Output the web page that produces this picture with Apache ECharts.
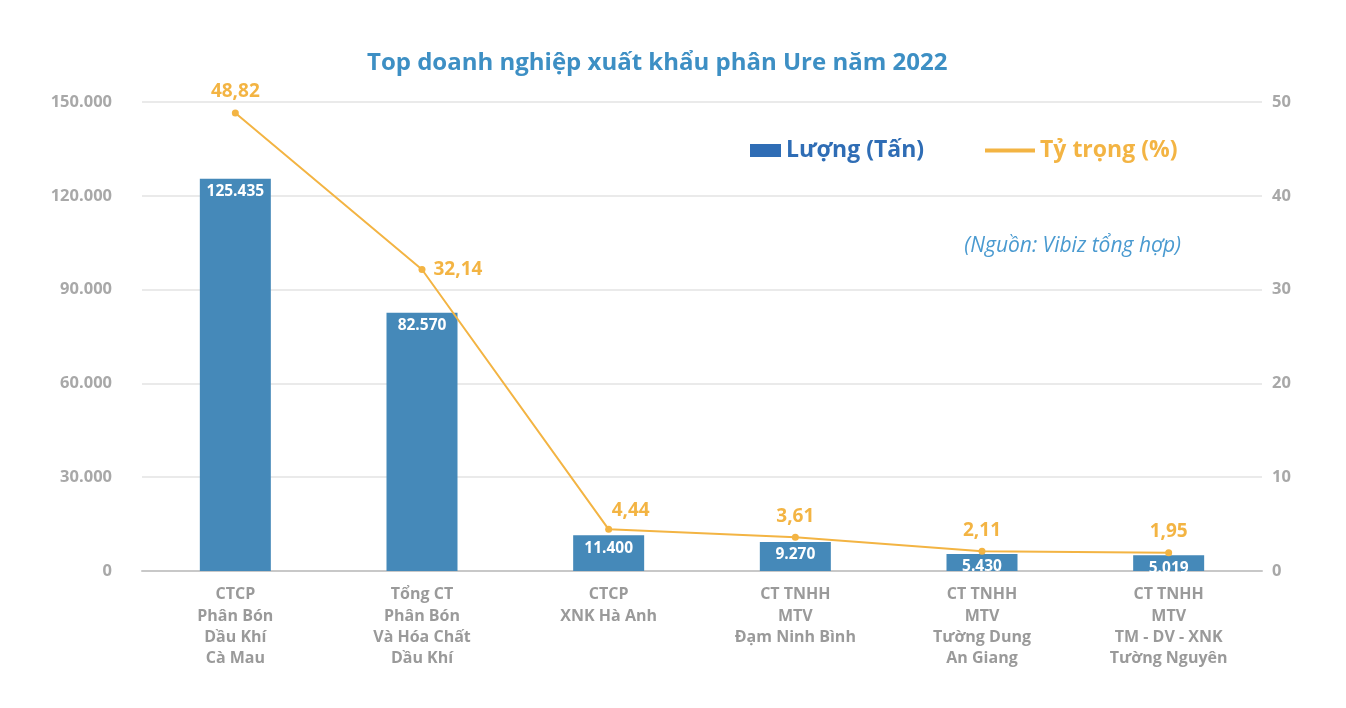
<!DOCTYPE html>
<html><head><meta charset="utf-8">
<script src="https://cdn.jsdelivr.net/npm/echarts@6/dist/echarts.min.js"></script>
<style>html,body{margin:0;padding:0;background:#fff}#c{width:1346px;height:708px}</style>
</head><body><div id="c"></div>
<script>
const categories = [
  "CTCP\nPhân Bón\nDầu Khí\nCà Mau",
  "Tổng CT\nPhân Bón\nVà Hóa Chất\nDầu Khí",
  "CTCP\nXNK Hà Anh",
  "CT TNHH\nMTV\nĐạm Ninh Bình",
  "CT TNHH\nMTV\nTường Dung\nAn Giang",
  "CT TNHH\nMTV\nTM - DV - XNK\nTường Nguyên"
];
const luong = [125435, 82570, 11400, 9270, 5430, 5019];
const tyTrong = [48.82, 32.14, 4.44, 3.61, 2.11, 1.95];
const leftTicks = {min: 0, max: 150000, interval: 30000};
const rightTicks = {min: 0, max: 50, interval: 10};
const lineLabelPos = ["top", "right", "top", "top", "top", "top"];
const lineLabelOffset = [[0, 0], [0, 0], [22, 2], [0, 0], [0, 0], [0, 0]];

const FONT = "Open Sans";
const fmtDot = v => String(v).replace(/\B(?=(\d{3})+(?!\d))/g, ".");
const chart = echarts.init(document.getElementById('c'), null, {renderer: 'canvas'});
chart.setOption({
  animation: false,
  textStyle: {fontFamily: FONT},
  title: {
    text: "Top doanh nghiệp xuất khẩu phân Ure năm 2022",
    left: 362, top: 46,
    textStyle: {color: '#3d8fc4', fontSize: 24, fontWeight: 'bold', fontFamily: FONT}
  },
  legend: [{
    data: [{name: 'Lượng (Tấn)', itemStyle: {color: '#2f6db5'}, textStyle: {color: '#2f6db5'}}],
    left: 745, top: 134, icon: 'rect', itemWidth: 31, itemHeight: 13, itemGap: 6,
    textStyle: {fontSize: 23, fontWeight: 'bold', fontFamily: FONT}
  }, {
    data: [{name: 'Tỷ trọng (%)', itemStyle: {color: '#f3b443'}, textStyle: {color: '#f3b443'}}],
    left: 980, top: 134, icon: 'rect', itemWidth: 50, itemHeight: 4, itemGap: 6,
    textStyle: {fontSize: 23, fontWeight: 'bold', fontFamily: FONT}
  }],
  graphic: [{
    type: 'text', right: 165, top: 236,
    style: {text: '(Nguồn: Vibiz tổng hợp)', fill: '#4a9ad0', fontSize: 21, fontStyle: 'italic', fontFamily: FONT}
  }],
  grid: {left: 142, right: 84, top: 102, bottom: 137},
  xAxis: {
    type: 'category', data: categories,
    axisLine: {lineStyle: {color: '#c8c8c8', width: 2}},
    axisTick: {show: false},
    axisLabel: {color: '#9a9a9a', fontSize: 16, fontWeight: 'bold', lineHeight: 21.3, margin: 13, interval: 0, fontFamily: FONT}
  },
  yAxis: [{
    type: 'value', min: leftTicks.min, max: leftTicks.max, interval: leftTicks.interval,
    axisLine: {show: false}, axisTick: {show: false},
    splitLine: {lineStyle: {color: '#e3e3e3', width: 1.5}},
    axisLabel: {color: '#a8a8a8', fontSize: 16.5, fontWeight: 'bold', margin: 30, formatter: fmtDot, fontFamily: FONT}
  }, {
    type: 'value', min: rightTicks.min, max: rightTicks.max, interval: rightTicks.interval,
    axisLine: {show: false}, axisTick: {show: false}, splitLine: {show: false},
    axisLabel: {color: '#a8a8a8', fontSize: 16.5, fontWeight: 'bold', margin: 10, fontFamily: FONT}
  }],
  series: [{
    name: 'Lượng (Tấn)', type: 'bar', data: luong, barWidth: 71,
    itemStyle: {color: '#4589b9'},
    label: {show: true, position: 'insideTop', distance: 5, color: '#fff', fontSize: 15.5, fontWeight: 'bold', formatter: p => fmtDot(p.value), fontFamily: FONT}
  }, {
    name: 'Tỷ trọng (%)', type: 'line', yAxisIndex: 1,
    data: tyTrong.map((v, i) => ({value: v, label: {position: lineLabelPos[i], offset: lineLabelOffset[i]}})),
    lineStyle: {color: '#f3b443', width: 2},
    itemStyle: {color: '#f3b443'},
    symbol: 'circle', symbolSize: 7,
    label: {show: true, color: '#f3b443', fontSize: 19, fontWeight: 'bold', distance: 8,
      formatter: p => String(p.value).replace('.', ','), fontFamily: FONT}
  }]
});
</script>
</body></html>
